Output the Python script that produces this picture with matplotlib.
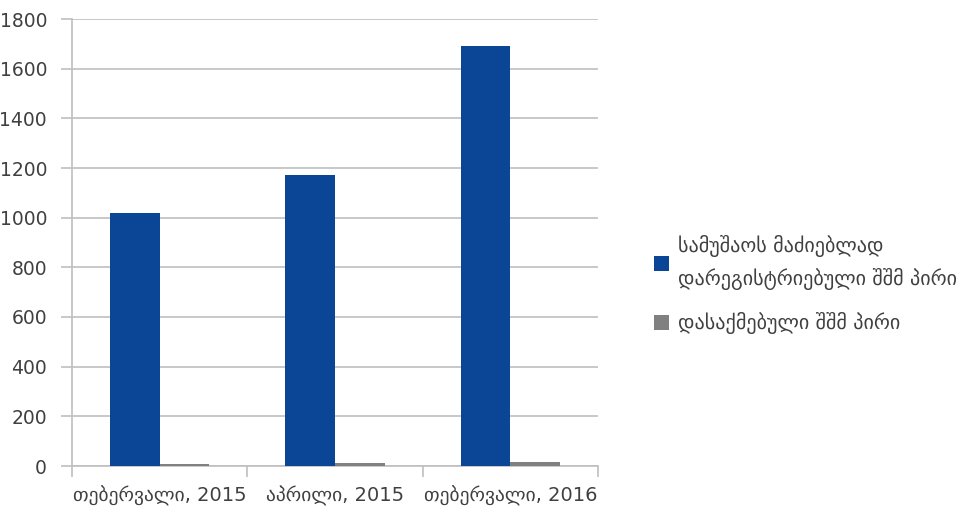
import matplotlib
matplotlib.use("Agg")
import matplotlib.pyplot as plt
import numpy as np

categories = ["თებერვალი, 2015", "აპრილი, 2015", "თებერვალი, 2016"]
series_names = ["სამუშაოს მაძიებლად\nდარეგისტრიებული შშმ პირი", "დასაქმებული შშმ პირი"]
registered = [1020, 1170, 1690]
employed = [8, 12, 16]
yticks = [0, 200, 400, 600, 800, 1000, 1200, 1400, 1600, 1800]

plt.rcParams['font.family'] = ['DejaVu Sans']

fig = plt.figure(figsize=(9.75, 5.16), dpi=100)
ax = fig.add_axes([72/975, 50/516, (598-72)/975, (466-19)/516])

x = np.arange(len(categories))
w = 50/176
ax.bar(x - w/2, registered, width=w, color="#0B4595", zorder=3, label=series_names[0])
ax.bar(x + w/2, employed, width=w, color="#808080", zorder=3, label=series_names[1])

ax.set_xlim(-0.5, len(categories) - 0.5)
ax.set_ylim(0, 1800)
ax.set_yticks(yticks)
ax.set_yticklabels([str(v) for v in yticks], fontsize=13.5, color="#404040")
ax.yaxis.grid(True, color="#BFBFBF", linewidth=1.2, zorder=0)
ax.set_xticks(x)
ax.set_xticklabels(categories, fontsize=14, color="#404040")
ax.tick_params(axis='x', length=0, pad=14)
ax.tick_params(axis='y', length=8, color="#BFBFBF", width=1.2, pad=10)

# category boundary ticks
ax.set_xticks(np.arange(len(categories) + 1) - 0.5, minor=True)
ax.tick_params(axis='x', which='minor', length=8, color="#BFBFBF", width=1.2)

for s in ['top', 'right']:
    ax.spines[s].set_visible(False)
for s in ['left', 'bottom']:
    ax.spines[s].set_color("#BFBFBF")
    ax.spines[s].set_linewidth(1.2)

leg = fig.legend(loc='center left', bbox_to_anchor=(636/975, 0.448), frameon=False,
                 fontsize=14.5, handlelength=0.75, handleheight=0.75, handletextpad=0.45,
                 labelspacing=1.1, labelcolor="#404040")
for t in leg.get_texts():
    t.set_linespacing(1.65)

fig.savefig("out.png", dpi=100)
